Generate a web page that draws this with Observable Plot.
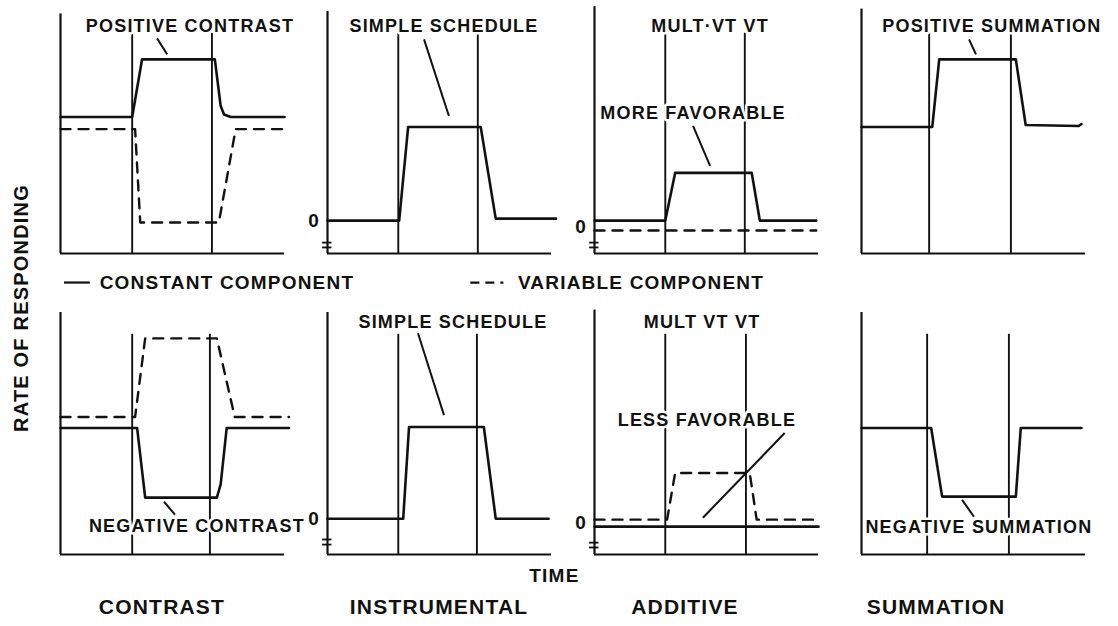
<!DOCTYPE html>
<html><head><meta charset="utf-8">
<script src="https://cdn.jsdelivr.net/npm/d3@7"></script>
<script src="https://cdn.jsdelivr.net/npm/@observablehq/plot@0.6"></script>
<style>
body{margin:0;background:#fff}
svg{font-family:"Liberation Sans",Arial,sans-serif;font-weight:bold;letter-spacing:1.2px}
</style>
</head><body><div id="chart"></div><script>
// ---- facets ----
const columns = ["CONTRAST", "INSTRUMENTAL", "ADDITIVE", "SUMMATION"];
const rows = ["upper", "lower"];
const panelCol = ["CONTRAST", "INSTRUMENTAL", "ADDITIVE", "SUMMATION", "CONTRAST", "INSTRUMENTAL", "ADDITIVE", "SUMMATION"];
const panelRow = ["upper", "upper", "upper", "upper", "lower", "lower", "lower", "lower"];
const axisTop = [9.9, 10, 10.2, 10.1, 10, 10, 10.1, 10];

// ---- component onset / offset (time units) ----
const onsetTimes  = [3.2, 3.16, 3.16, 3.02, 3.2, 3.16, 3.16, 2.93];
const offsetTimes = [6.76, 6.71, 6.71, 6.67, 6.67, 6.67, 6.76, 6.58];
const markerTop = 9.1;

// ---- response-rate curves [time, rate] ----
const posContrastConstant = [[0,5.64],[3.2,5.64],[3.64,8.02],[6.89,8.02],[7.15,6.1],[7.3,5.74],[7.6,5.64],[10,5.64]];
const posContrastVariable = [[0,5.14],[3.33,5.14],[3.56,1.28],[7.07,1.28],[7.82,5.14],[10,5.14]];
const simpleUpper = [[0,1.36],[3.2,1.36],[3.6,5.23],[6.84,5.23],[7.51,1.44],[10.2,1.44]];
const moreFavConstant = [[0,1.36],[3.16,1.36],[3.6,3.33],[7.02,3.33],[7.38,1.36],[9.9,1.36]];
const moreFavVariable = [[0,0.95],[9.9,0.95]];
const posSummation = [[0,5.23],[3.16,5.23],[3.47,8.02],[6.89,8.02],[7.33,5.31],[9.7,5.27],[9.82,5.35]];
const negContrastConstant = [[0,5.23],[3.42,5.23],[3.78,2.35],[6.98,2.35],[7.15,2.9],[7.42,5.23],[10.2,5.23]];
const negContrastVariable = [[0,5.68],[3.33,5.68],[3.78,8.93],[6.98,8.93],[7.78,5.68],[10.2,5.68]];
const simpleLower = [[0,1.48],[3.38,1.48],[3.64,5.27],[6.98,5.27],[7.51,1.48],[9.87,1.48]];
const lessFavConstant = [[0,1.15],[10,1.15]];
const lessFavVariable = [[0,1.44],[3.24,1.44],[3.6,3.37],[6.93,3.37],[7.24,1.44],[10,1.44]];
const negSummation = [[0,5.23],[3.11,5.23],[3.6,2.39],[6.89,2.39],[7.11,5.23],[9.82,5.23]];

const curves = [
  ["CONTRAST","upper","constant",posContrastConstant],
  ["CONTRAST","upper","variable",posContrastVariable],
  ["INSTRUMENTAL","upper","constant",simpleUpper],
  ["ADDITIVE","upper","constant",moreFavConstant],
  ["ADDITIVE","upper","variable",moreFavVariable],
  ["SUMMATION","upper","constant",posSummation],
  ["CONTRAST","lower","constant",negContrastConstant],
  ["CONTRAST","lower","variable",negContrastVariable],
  ["INSTRUMENTAL","lower","constant",simpleLower],
  ["ADDITIVE","lower","constant",lessFavConstant],
  ["ADDITIVE","lower","variable",lessFavVariable],
  ["SUMMATION","lower","constant",negSummation]
];

// ---- panel labels ----
const labelText = ["POSITIVE CONTRAST","SIMPLE SCHEDULE","MULT·VT VT","POSITIVE SUMMATION","NEGATIVE CONTRAST","SIMPLE SCHEDULE","MULT VT VT","NEGATIVE SUMMATION"];
const labelT = [5.78, 5.2, 5.16, 5.82, 6.09, 5.6, 4.8, 5.24];
const labelR = [9.38, 9.38, 9.38, 9.38, 1.15, 9.59, 9.59, 1.11];
const extraText = ["MORE FAVORABLE", "LESS FAVORABLE"];
const extraRow = ["upper", "lower"];
const extraT = [4.4, 5.02];
const extraR = [5.8, 5.56];
// leader lines [col,row,t1,r1,t2,r2]
const leaders = [
  ["CONTRAST","upper",4.31,8.89,4.76,8.23],
  ["INSTRUMENTAL","upper",4.31,8.85,5.42,5.68],
  ["ADDITIVE","upper",4.4,5.27,5.16,3.62],
  ["SUMMATION","upper",4.8,8.85,5.11,8.23],
  ["CONTRAST","lower",4.62,2.18,5.11,1.65],
  ["INSTRUMENTAL","lower",4.04,9.14,5.2,5.76],
  ["ADDITIVE","lower",4.84,1.52,8.49,5.02],
  ["SUMMATION","lower",4.49,2.26,5.02,1.56]
];
// zero markers on the schedule panels
const zeroCol = ["INSTRUMENTAL","ADDITIVE","INSTRUMENTAL","ADDITIVE"];
const zeroRow = ["upper","upper","lower","lower"];
const zeroR = [1.36, 1.1, 1.48, 1.3];
const breakR = [[0.45,0.25],[0.45,0.25],[0.62,0.41],[0.49,0.29]];

// ---- build tables ----
const panels = panelCol.map((c, i) => ({col: c, row: panelRow[i], top: axisTop[i]}));
const markers = panels.flatMap((p, i) => [{...p, t: onsetTimes[i]}, {...p, t: offsetTimes[i]}]);
const pts = curves.flatMap(([col, row, comp, arr], k) => arr.map(([t, r]) => ({col, row, comp, id: k, t, r})));
const labels = labelText.map((s, i) => ({col: panelCol[i], row: panelRow[i], text: s, t: labelT[i], r: labelR[i]}))
  .concat(extraText.map((s, i) => ({col: "ADDITIVE", row: extraRow[i], text: s, t: extraT[i], r: extraR[i]})));
const leaderRows = leaders.map(([col, row, t1, r1, t2, r2]) => ({col, row, t1, r1, t2, r2}));
const zeros = zeroCol.map((c, i) => ({col: c, row: zeroRow[i], r: zeroR[i]}));
const breaks = zeroCol.flatMap((c, i) => breakR[i].map(r => ({col: c, row: zeroRow[i], r})));

const F = {fx: "col", fy: "row"};
const ink = "#111";

const chart = Plot.plot({
  width: 1118, height: 626,
  marginLeft: 58, marginRight: 31, marginTop: 10, marginBottom: 71,
  fx: {domain: columns, paddingInner: 0.16, paddingOuter: 0, axis: null},
  fy: {domain: rows, paddingInner: 0.195, paddingOuter: 0, axis: null},
  x: {domain: [0, 10], axis: null},
  y: {domain: [0, 10], axis: null},
  marks: [
    // axes frames
    Plot.ruleX(panels, {...F, x: 0, y1: 0, y2: "top", stroke: ink, strokeWidth: 2.2}),
    Plot.ruleY(panels, {...F, y: 0, x1: 0, x2: 10, stroke: ink, strokeWidth: 2.2}),
    // onset/offset markers
    Plot.ruleX(markers, {...F, x: "t", y1: 0, y2: markerTop, stroke: ink, strokeWidth: 1.9}),
    // breaks near the origin
    Plot.ruleY(breaks, {...F, y: "r", x1: -0.22, x2: 0.2, stroke: ink, strokeWidth: 1.8}),
    // curves
    Plot.line(pts.filter(d => d.comp === "constant"), {...F, x: "t", y: "r", z: "id", stroke: ink, strokeWidth: 2.6, strokeLinejoin: "round"}),
    Plot.line(pts.filter(d => d.comp === "variable"), {...F, x: "t", y: "r", z: "id", stroke: ink, strokeWidth: 2.4, strokeDasharray: "10,8"}),
    // labels (white halo breaks the lines behind)
    Plot.text(labels, {...F, x: "t", y: "r", text: "text", fontSize: 18, fill: ink, stroke: "white", strokeWidth: 5}),
    Plot.link(leaderRows, {...F, x1: "t1", y1: "r1", x2: "t2", y2: "r2", stroke: ink, strokeWidth: 2}),
    Plot.text(zeros, {...F, x: -0.6, y: "r", text: () => "0", fontSize: 19, fill: ink}),
    // legend
    Plot.ruleY([{col: "CONTRAST", row: "upper"}], {...F, y: -1.2, x1: 0.18, x2: 1.33, stroke: ink, strokeWidth: 2.2}),
    Plot.text([{col: "CONTRAST", row: "upper"}], {...F, x: 1.75, y: -1.2, text: () => "CONSTANT COMPONENT", textAnchor: "start", fontSize: 19, fill: ink}),
    Plot.ruleY([{col: "INSTRUMENTAL", row: "upper"}], {...F, y: -1.2, x1: 6.4, x2: 8.2, stroke: ink, strokeWidth: 2.2, strokeDasharray: "9,6,9,6,3,20"}),
    Plot.text([{col: "INSTRUMENTAL", row: "upper"}], {...F, x: 8.5, y: -1.2, text: () => "VARIABLE COMPONENT", textAnchor: "start", fontSize: 19, fill: ink}),
    // axis titles
    Plot.text([{col: "CONTRAST", row: "upper"}], {...F, x: -1.72, y: -2.25, rotate: -90, text: () => "RATE OF RESPONDING", fontSize: 20, fill: ink}),
    Plot.text([{col: "INSTRUMENTAL", row: "lower"}], {...F, x: 10.13, y: -0.9, text: () => "TIME", fontSize: 19, fill: ink}),
    Plot.text(columns.map(c => ({col: c, row: "lower"})), {...F, x: (d, i) => [4.53, 4.98, 4.04, 3.33][i], y: -2.18, text: "col", fontSize: 21, fill: ink})
  ]
});
document.getElementById("chart").appendChild(chart);
</script></body></html>
